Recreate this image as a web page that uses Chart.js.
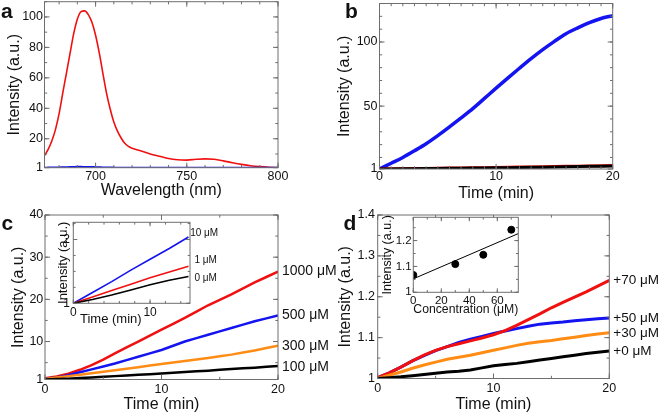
<!DOCTYPE html>
<html><head><meta charset="utf-8">
<script src="https://cdn.jsdelivr.net/npm/chart.js@4.4.1/dist/chart.umd.min.js"></script>
<style>
html,body{margin:0;padding:0;background:#fff;overflow:hidden;width:660px;height:416px}
#wrap{position:relative;width:660px;height:416px;background:#fff}
canvas{position:absolute}
#err{position:absolute;left:0;top:0;font:10px monospace;color:#c00;z-index:9}
</style></head>
<body><div id="wrap">
<canvas id="ca"></canvas><canvas id="cb"></canvas><canvas id="cc"></canvas><canvas id="cd"></canvas>
<canvas id="cci"></canvas><canvas id="cdi"></canvas><div id="err"></div>
</div>
<script>
// ---------- DATA ----------
// Panel a: spectra
const aWave = [672,674,676,678,680,682,684,686,688,690,692,694,696,698,700,702,704,706,708,710,712,714,716,718,720,725,730,735,740,745,750,755,760,765,770,775,780,785,790,795,800];
const aRed  = [9,13,18.5,26,36.5,50,63,76,89,98.5,103.5,104,101.5,96.5,88,76.5,63,50,39.5,31,25,20.5,17,15,13.8,12,10,8.5,7,6.2,6,6.5,6.8,6.5,5.5,4.3,3.2,2.3,1.7,1.3,1.1];
const aBlue = [1,1.05,1.1,1.15,1.2,1.28,1.35,1.42,1.5,1.55,1.55,1.5,1.45,1.4,1.35,1.28,1.2,1.15,1.1,1.05,1,1,1,1,1,1,1,1,1,1,1,1,1,1,1,1,1,1,1,1,1];
const aXTicks = [700,750,800];
const aYTicks = [1,20,40,60,80,100];
// Panel b: time course
const bTime  = [0,1,2,3,4,5,6,7,8,9,10,11,12,13,14,15,16,17,18,19,20];
const bBlue  = [1,5.5,10,15.2,20.7,27,33.8,40.8,48,56,64,71.8,79.5,87,94,100.5,106.5,111,115,118.3,120.5];
const bRed   = [1,1.1,1.2,1.3,1.45,1.55,1.7,1.8,1.95,2.05,2.2,2.35,2.5,2.6,2.75,2.9,3.05,3.2,3.4,3.55,3.75];
const bBlack = [1,1.05,1.1,1.2,1.3,1.4,1.5,1.6,1.7,1.8,1.9,2.0,2.15,2.3,2.45,2.6,2.75,2.9,3.05,3.2,3.4];
const bXTicks = [0,10,20];
const bYTicks = [1,50,100];
// Panel c: concentration series
const cTime  = [0,1,2,3,4,5,6,7,8,9,10,11,12,13,14,15,16,17,18,19,20];
const c1000  = [1.3,1.7,2.4,3.3,4.4,5.7,7.2,8.6,10,11.4,12.8,14.2,15.6,17.1,18.6,19.9,21.2,22.6,24,25.3,26.6];
const c500   = [1.2,1.5,2.0,2.7,3.4,4.1,4.8,5.6,6.4,7.2,8,9,10,10.8,11.6,12.4,13.2,14,14.8,15.5,16.2];
const c300   = [1.1,1.45,1.8,2.15,2.5,2.85,3.2,3.55,3.9,4.3,4.7,5.05,5.4,5.75,6.1,6.5,6.9,7.4,7.9,8.45,9.0];
const c100   = [1.0,1.1,1.2,1.35,1.5,1.65,1.8,1.95,2.1,2.25,2.4,2.6,2.8,2.95,3.1,3.3,3.5,3.65,3.8,4.0,4.2];
const cLabels = ['1000 \u03bcM','500 \u03bcM','300 \u03bcM','100 \u03bcM'];
const cXTicks = [0,10,20];
const cYTicks = [1,10,20,30,40];
// Inset of c
const ciTime = [0,2.5,5,7.5,10,12.5,15];
const ci10   = [1,1.17,1.34,1.52,1.69,1.86,2.04];
const ci1    = [1,1.1,1.2,1.3,1.4,1.49,1.58];
const ci0    = [1,1.06,1.13,1.21,1.29,1.36,1.42];
const ciLabels = ['10 \u03bcM','1 \u03bcM','0 \u03bcM'];
const ciXTicks = [0,10];
const ciYTicks = [1,2];
// Panel d
const dTime = [0,1,2,3,4,5,6,7,8,9,10,11,12,13,14,15,16,17,18,19,20];
const d70 = [1.002,1.014,1.028,1.043,1.057,1.069,1.078,1.085,1.092,1.099,1.107,1.117,1.13,1.144,1.158,1.173,1.186,1.199,1.212,1.226,1.24];
const d50 = [1.002,1.014,1.028,1.043,1.056,1.068,1.078,1.088,1.096,1.103,1.11,1.116,1.122,1.128,1.133,1.136,1.138,1.141,1.144,1.146,1.148];
const d30 = [1.0,1.008,1.016,1.025,1.033,1.04,1.047,1.052,1.057,1.063,1.069,1.075,1.081,1.086,1.09,1.093,1.097,1.101,1.105,1.109,1.112];
const d0  = [1.0,1.002,1.004,1.007,1.01,1.013,1.016,1.018,1.021,1.026,1.031,1.034,1.037,1.041,1.045,1.049,1.053,1.057,1.061,1.064,1.067];
const dLabels = ['+70 \u03bcM','+50 \u03bcM','+30 \u03bcM','+0 \u03bcM'];
const dXTicks = [0,10,20];
const dYTicks = [1,1.1,1.2,1.3,1.4];
// Inset of d
const diConc = [0,30,50,70];
const diInt  = [1.067,1.109,1.145,1.242];
const diFitX = [0,75];
const diFitY = [1.052,1.227];
const diXTicks = [0,20,40,60];
const diYTicks = [1,1.1,1.2];

// ---------- STYLE ----------
const FONT = "'Liberation Sans', Arial, sans-serif";
Chart.defaults.font.family = FONT;
Chart.defaults.color = '#111';
const RED = '#f01010', BLUE = '#1414f0', ORANGE = '#ff8c14', BLACK = '#000';
const FRAME = '#6e6e6e';

const pts = (xs, ys) => xs.map((x, i) => ({x, y: ys[i]}));
const ser = (xs, ys, color, w, label, extra) => Object.assign({
  label, data: pts(xs, ys), borderColor: color, backgroundColor: color,
  borderWidth: w, pointRadius: 0, fill: false, tension: 0
}, extra || {});

function report(e) { document.getElementById('err').textContent += String(e && e.stack || e) + ' | '; }

// ---------- PLUGINS ----------
const FRAME_CFG = {};
function drawFrame(chart) {
  const o = FRAME_CFG[chart.canvas.id];
  if (!o) return;
  const ctx = chart.ctx, a = chart.chartArea;
  const x = chart.scales.x, y = chart.scales.y;
  ctx.save();
  ctx.strokeStyle = FRAME; ctx.lineWidth = 1;
  ctx.strokeRect(a.left, a.top, a.right - a.left, a.bottom - a.top);
  const seg = (x1, y1, x2, y2) => { ctx.beginPath(); ctx.moveTo(x1, y1); ctx.lineTo(x2, y2); ctx.stroke(); };
  const tx = (v, len) => { const p = x.getPixelForValue(v); seg(p, a.bottom, p, a.bottom - len); seg(p, a.top, p, a.top + len); };
  const ty = (v, len) => { const p = y.getPixelForValue(v); seg(a.left, p, a.left + len, p); seg(a.right, p, a.right - len, p); };
  const minors = (sc, step, fn) => {
    const n0 = Math.ceil(sc.min / step - 1e-6), n1 = Math.floor(sc.max / step + 1e-6);
    for (let k = n0; k <= n1; k++) fn(k * step, o.minorLen);
  };
  if (o.xMinor) minors(x, o.xMinor, tx);
  if (o.yMinor) minors(y, o.yMinor, ty);
  x.ticks.forEach(t => tx(t.value, o.majorLen));
  y.ticks.forEach(t => ty(t.value, o.majorLen));
  ctx.restore();
}
const framePlugin = {
  id: 'rsFrame',
  beforeDraw(chart) {
    try {
      const o = FRAME_CFG[chart.canvas.id];
      if (o && o.fill) {
        const a = chart.chartArea;
        chart.ctx.save(); chart.ctx.fillStyle = '#fff';
        chart.ctx.fillRect(a.left, a.top, a.right - a.left, a.bottom - a.top);
        chart.ctx.restore();
      }
    } catch (e) { report(e); }
  },
  afterDatasetsDraw(chart) {
    try { drawFrame(chart); } catch (e) { report(e); }
  }
};
const LABEL_CFG = {};
const labelPlugin = {
  id: 'rsLabels',
  afterDraw(chart) {
    try {
      const o = LABEL_CFG[chart.canvas.id];
      if (!o) return;
      const ctx = chart.ctx;
      ctx.save(); ctx.fillStyle = '#111';
      (o.endItems || []).forEach(it => {
        const meta = chart.getDatasetMeta(it.ds);
        const el = meta.data[meta.data.length - 1];
        ctx.font = o.endSize + 'px ' + FONT; ctx.textAlign = 'left'; ctx.textBaseline = 'middle';
        ctx.fillText(chart.data.datasets[it.ds].label, el.x + it.dx, el.y + it.dy);
      });
      (o.texts || []).forEach(it => {
        ctx.font = it.font; ctx.textAlign = it.align; ctx.textBaseline = it.baseline;
        ctx.fillText(it.text, it.x, it.y);
      });
      ctx.restore();
    } catch (e) { report(e); }
  }
};

function panel(id, box, area, cfg) {
  const cv = document.getElementById(id);
  cv.width = box.w; cv.height = box.h;
  Object.assign(cv.style, {left: box.x + 'px', top: box.y + 'px', width: box.w + 'px', height: box.h + 'px'});
  FRAME_CFG[id] = {fill: !!cfg.fill, xMinor: cfg.xMinor, yMinor: cfg.yMinor, majorLen: cfg.majorLen || 5, minorLen: cfg.minorLen || 2.7};
  LABEL_CFG[id] = {endItems: cfg.endItems || [], endSize: cfg.endSize || 14, texts: cfg.texts || []};
  const lh = cfg.titleSize * 1.2;
  const yW = area.l - box.x, xH = box.y + box.h - area.b;
  const yTitlePad = cfg.yTitleX - box.x - lh / 2;
  const xTitlePad = box.y + box.h - lh / 2 - cfg.xTitleY;
  try {
  return new Chart(cv, {
    type: 'line',
    data: {datasets: cfg.datasets},
    options: {
      responsive: false, animation: false, devicePixelRatio: 1,
      layout: {autoPadding: false, padding: {left: 0, top: area.t - box.y, right: box.x + box.w - area.r, bottom: 0}},
      plugins: {legend: {display: false}, tooltip: {enabled: false}},
      scales: {
        x: {
          type: 'linear', min: cfg.xMin, max: cfg.xMax,
          grid: {display: false, drawTicks: false}, border: {display: false},
          ticks: {autoSkip: false, maxRotation: 0, padding: cfg.xTickPad, font: {size: cfg.tickSize}, color: '#111', callback: v => String(v)},
          title: {display: !!cfg.xTitle, text: cfg.xTitle || '', font: {size: cfg.titleSize}, color: '#111', padding: {top: 0, bottom: xTitlePad}},
          afterBuildTicks: s => { s.ticks = cfg.xTicks.map(v => ({value: v})); },
          afterFit: s => { s.height = xH; s.paddingLeft = 0; s.paddingRight = 0; }
        },
        y: {
          type: 'linear', min: cfg.yMin, max: cfg.yMax,
          grid: {display: false, drawTicks: false}, border: {display: false},
          ticks: {autoSkip: false, padding: cfg.yTickPad, font: {size: cfg.tickSize}, color: '#111', callback: v => String(v)},
          title: {display: !!cfg.yTitle, text: cfg.yTitle || '', font: {size: cfg.titleSize}, color: '#111', padding: {top: yTitlePad, bottom: 0}},
          afterBuildTicks: s => { s.ticks = cfg.yTicks.map(v => ({value: v})); },
          afterFit: s => { s.width = yW; s.paddingTop = 0; s.paddingBottom = 0; }
        }
      }
    },
    plugins: [framePlugin, labelPlugin]
  });
  } catch (e) { report(e); }
}

const LETTER = 'bold 21px ' + FONT;
const YT = 'Intensity (a.u.)', TT = 'Time (min)';

// Panel a
panel('ca', {x: 0, y: 0, w: 330, h: 205}, {l: 44.5, r: 278, t: 1.7, b: 167.7}, {
  xMin: 672, xMax: 800, yMin: 1, yMax: 110, xTicks: aXTicks, yTicks: aYTicks, xMinor: 10, yMinor: 10,
  tickSize: 12.5, titleSize: 16, xTickPad: 1, yTickPad: 1.5,
  xTitle: 'Wavelength (nm)', yTitle: YT, yTitleX: 14.5, xTitleY: 190.5,
  datasets: [
    ser(aWave, aBlue, BLUE, 2, 'blue', {cubicInterpolationMode: 'monotone'}),
    ser(aWave, aRed, RED, 1.6, 'red', {cubicInterpolationMode: 'monotone'})
  ],
  texts: [{text: 'a', x: 1, y: 18.3, font: LETTER, align: 'left', baseline: 'alphabetic'}]
});

// Panel b
panel('cb', {x: 330, y: 0, w: 330, h: 205}, {l: 379.5, r: 612.7, t: 3.5, b: 169}, {
  xMin: 0, xMax: 20, yMin: 1, yMax: 130, xTicks: bXTicks, yTicks: bYTicks, xMinor: 1, yMinor: 10,
  tickSize: 12.5, titleSize: 16, xTickPad: 0.5, yTickPad: 2,
  xTitle: TT, yTitle: YT, yTitleX: 344.3, xTitleY: 194,
  datasets: [
    ser(bTime, bBlack, BLACK, 3, 'black'),
    ser(bTime, bRed, RED, 3, 'red'),
    ser(bTime, bBlue, BLUE, 3.5, 'blue', {cubicInterpolationMode: 'monotone'})
  ],
  texts: [{text: 'b', x: 15, y: 18.3, font: LETTER, align: 'left', baseline: 'alphabetic'}]
});

// Panel c
panel('cc', {x: 0, y: 200, w: 345, h: 216}, {l: 45, r: 278, t: 215, b: 379.5}, {
  xMin: 0, xMax: 20, yMin: 1, yMax: 40, xTicks: cXTicks, yTicks: cYTicks, xMinor: 5, yMinor: 5,
  tickSize: 12.5, titleSize: 16, xTickPad: 3, yTickPad: 1.7,
  xTitle: TT, yTitle: YT, yTitleX: 18.3, xTitleY: 404.8,
  datasets: [
    ser(cTime, c100, BLACK, 2.5, cLabels[3]),
    ser(cTime, c300, ORANGE, 2.5, cLabels[2]),
    ser(cTime, c500, BLUE, 2.5, cLabels[1]),
    ser(cTime, c1000, RED, 2.5, cLabels[0])
  ],
  endItems: [{ds: 3, dx: 4, dy: 0}, {ds: 2, dx: 4, dy: 0}, {ds: 1, dx: 4, dy: 0}, {ds: 0, dx: 4, dy: 1}],
  endSize: 14,
  texts: [{text: 'c', x: 1.5, y: 30, font: LETTER, align: 'left', baseline: 'alphabetic'}]
});

// Panel d
panel('cd', {x: 330, y: 200, w: 330, h: 216}, {l: 377.7, r: 609.3, t: 215, b: 378.5}, {
  xMin: 0, xMax: 20, yMin: 1, yMax: 1.4, xTicks: dXTicks, yTicks: dYTicks, xMinor: 5, yMinor: 0.05,
  tickSize: 12.5, titleSize: 16, xTickPad: 2.3, yTickPad: 2.7,
  xTitle: TT, yTitle: YT, yTitleX: 346, xTitleY: 405,
  datasets: [
    ser(dTime, d0, BLACK, 3, dLabels[3]),
    ser(dTime, d30, ORANGE, 3, dLabels[2]),
    ser(dTime, d70, RED, 3, dLabels[0]),
    ser(dTime, d50, BLUE, 3, dLabels[1])
  ],
  endItems: [{ds: 2, dx: 4, dy: 0}, {ds: 3, dx: 4, dy: 0}, {ds: 1, dx: 4, dy: 1}, {ds: 0, dx: 4, dy: 0}],
  endSize: 13.5,
  texts: [{text: 'd', x: 13.5, y: 30, font: LETTER, align: 'left', baseline: 'alphabetic'}]
});

// Inset c
panel('cci', {x: 52, y: 212, w: 180, h: 118}, {l: 73.3, r: 190, t: 222.3, b: 303.3}, {
  xMin: 0, xMax: 15.2, yMin: 1, yMax: 2.27, xTicks: ciXTicks, yTicks: ciYTicks, xMinor: 2, yMinor: 0.25,
  tickSize: 12, titleSize: 13, xTickPad: 2.5, yTickPad: 3.3, fill: true, majorLen: 4, minorLen: 2.3,
  yTitle: YT, yTitleX: 63, xTitleY: 319.5,
  datasets: [
    ser(ciTime, ci0, BLACK, 1.6, ciLabels[2]),
    ser(ciTime, ci1, RED, 1.6, ciLabels[1]),
    ser(ciTime, ci10, BLUE, 1.6, ciLabels[0])
  ],
  endItems: [{ds: 2, dx: 1.7, dy: -3.7}, {ds: 1, dx: 6, dy: -6.3}, {ds: 0, dx: 6, dy: 1.5}],
  endSize: 10,
  texts: [{text: TT, x: 28, y: 107.5, font: '13px ' + FONT, align: 'left', baseline: 'middle'}]
});

// Inset d
panel('cdi', {x: 378, y: 210, w: 150, h: 110}, {l: 413.3, r: 518.3, t: 217.3, b: 292.3}, {
  xMin: 0, xMax: 75, yMin: 1, yMax: 1.29, xTicks: diXTicks, yTicks: diYTicks, xMinor: 10, yMinor: 0.05,
  tickSize: 11.5, titleSize: 12.5, xTickPad: 1.3, yTickPad: 1.6, fill: true, majorLen: 4, minorLen: 2.3,
  xTitle: 'Concentration (\u03bcM)', yTitle: YT, yTitleX: 388, xTitleY: 309.5,
  datasets: [
    ser(diFitX, diFitY, BLACK, 1, 'fit'),
    {type: 'scatter', label: 'data', data: pts(diConc, diInt), showLine: false, pointRadius: 3.5,
     pointBackgroundColor: BLACK, pointBorderColor: BLACK, borderColor: BLACK, backgroundColor: BLACK}
  ]
});
</script>
</body></html>
